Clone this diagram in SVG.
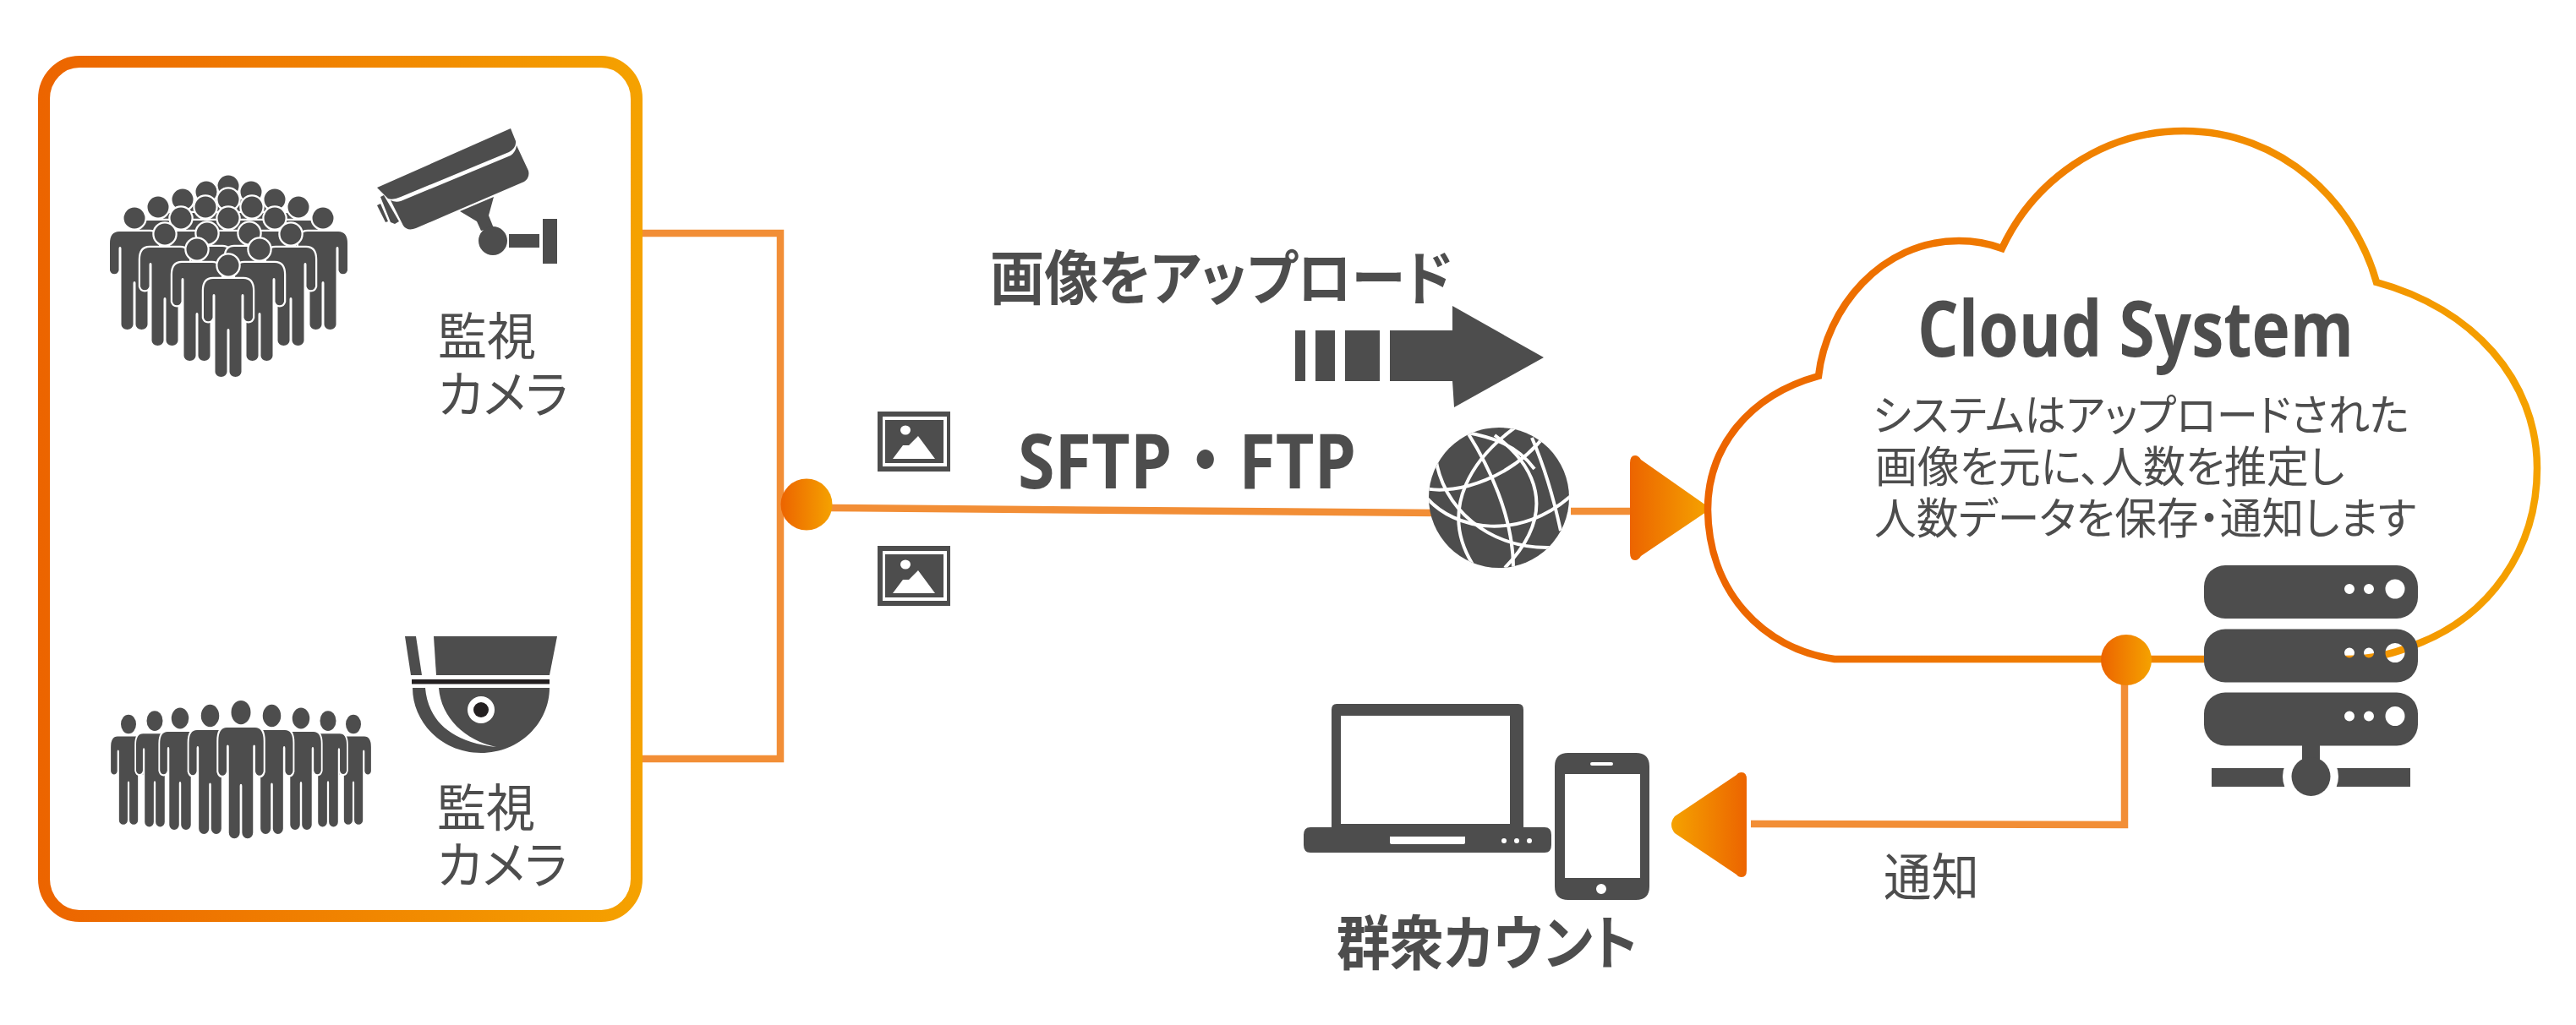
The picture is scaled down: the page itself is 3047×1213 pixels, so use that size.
<svg xmlns="http://www.w3.org/2000/svg" width="3047" height="1213" viewBox="0 0 3047 1213">
<style>
.g{fill:#4d4d4d}
.w{fill:#fff}
.k{fill:#231f20}
.ln{fill:none;stroke:#f28e36;stroke-width:8.5}
.p{fill:#4d4d4d;stroke:#fff;stroke-width:4.500;paint-order:stroke}
.gl{fill:none;stroke:#fff;stroke-width:4}
text{fill:#4d4d4d;font-family:"Noto Sans CJK JP","Noto Sans",sans-serif;font-feature-settings:"palt"}
.lat{font-family:"Open Sans","Noto Sans CJK JP",sans-serif;font-weight:700;font-feature-settings:normal}
.b{font-weight:700}
</style>
<defs>
<linearGradient id="gBox" gradientUnits="userSpaceOnUse" x1="45" y1="0" x2="760" y2="0"><stop offset="0" stop-color="#ec6400"/><stop offset="1" stop-color="#f5a200"/></linearGradient>
<linearGradient id="gCloud" gradientUnits="userSpaceOnUse" x1="2016" y1="0" x2="3005" y2="0"><stop offset="0" stop-color="#ec6400"/><stop offset="1" stop-color="#f5a200"/></linearGradient>
<linearGradient id="gR"><stop offset="0" stop-color="#ec6400"/><stop offset="1" stop-color="#f5a200"/></linearGradient>
<linearGradient id="gL"><stop offset="0" stop-color="#f5a200"/><stop offset="1" stop-color="#ec6400"/></linearGradient>
<path id="person" class="p" d="M-12.5 0A12.5 12.5 0 0 1 12.5 0A12.5 12.5 0 0 1 -12.5 0ZM-18 16H18Q29 16 29 30V62A5.5 6 0 0 1 18.500 62V36Q18.500 34 17 34T15.500 36V126A7 6 0 0 1 1.5 126V77Q1.5 75 0 75T-1.5 77V126A7 6 0 0 1 -15.500 126V36Q-15.500 34 -17 34T-18.500 36V62A5.5 6 0 0 1 -29 62V30Q-29 16 -18 16Z"/>
<path id="bust" class="p" d="M-12.5 0A12.5 12.5 0 0 1 12.5 0A12.5 12.5 0 0 1 -12.5 0ZM-18 16H18Q28 16 28 28V50H-28V28Q-28 16 -18 16Z"/>
<path id="srv" class="g" fill-rule="evenodd" d="M2632 0H2835A25 25 0 0 1 2860 25V38A25 25 0 0 1 2835 63H2632A25 25 0 0 1 2607 38V25A25 25 0 0 1 2632 0ZM2773 28a6 6 0 1 0 12 0a6 6 0 1 0 -12 0ZM2796 28a6 6 0 1 0 12 0a6 6 0 1 0 -12 0ZM2821.500 28a11.500 11.500 0 1 0 23 0a11.500 11.500 0 1 0 -23 0Z"/>
<g id="pic">
<rect class="g" x="1038" y="0" width="86" height="71"/>
<rect class="w" x="1044" y="6" width="76" height="59"/>
<rect class="g" x="1047" y="10" width="69" height="51"/>
<path class="w" d="M1056 56L1068 40L1075 40L1086 29L1106 56Z"/>
<ellipse class="w" cx="1071" cy="22" rx="6" ry="5.500"/>
</g>
<clipPath id="cGlobe"><circle cx="1773" cy="589" r="83"/></clipPath>
</defs>

<g id="connectors">
<path class="ln" d="M756 276H923V898H756"/>
<path class="ln" d="M980 601L1700 607"/>
<path class="ln" d="M1858 605H1932"/>
<path class="ln" d="M2513 805V976L2071 975"/>
</g>

<g id="camera-box">
<rect x="52" y="73" width="701" height="1011" rx="42" ry="44" fill="#fff" stroke="url(#gBox)" stroke-width="14"/>
</g>

<g id="crowd-1">
<use href="#bust" x="270" y="220"/>
<use href="#bust" x="244" y="227"/>
<use href="#bust" x="297" y="227"/>
<use href="#bust" x="216" y="236"/>
<use href="#bust" x="325" y="236"/>
<use href="#bust" x="270" y="236"/>
<use href="#bust" x="187" y="245"/>
<use href="#bust" x="353" y="245"/>
<use href="#bust" x="243" y="245"/>
<use href="#bust" x="298" y="245"/>
<use href="#bust" x="214" y="258"/>
<use href="#bust" x="325" y="258"/>
<use href="#bust" x="270" y="258"/>
<use href="#bust" x="245" y="276"/>
<use href="#bust" x="295" y="276"/>
<use href="#person" x="159" y="258"/>
<use href="#person" x="382" y="258"/>
<use href="#person" x="195" y="277"/>
<use href="#person" x="344" y="277"/>
<use href="#person" x="233" y="295"/>
<use href="#person" x="307" y="295"/>
<use href="#person" x="270" y="314"/>
</g>

<g id="camera-1">
<path class="g" d="M446 222L604 152L610 167Q611 175 602 180L474 233Q465 237 459 235Z"/>
<path class="g" d="M462 237Q468 240 474 238L604 184Q610 180 611 172L625 202Q627 210 620 215L492 270Q482 274 477 267Z"/>
<path class="g" d="M450 233L454 231L472 262L467 265L462 263Z"/>
<path class="g" d="M446 243L450 241L459 262L456 263Z"/>
<path class="g" d="M544 250L584 233L578 255L584 270L569 273L564 262Z"/>
<circle class="g" cx="583" cy="285" r="17"/>
<rect class="g" x="602" y="277" width="36" height="16"/>
<rect class="g" x="642" y="259" width="17" height="53"/>
</g>
<g id="label-camera-1">
<text font-size="60" lengthAdjust="spacingAndGlyphs"><tspan x="518" y="420" textLength="116" lengthAdjust="spacingAndGlyphs">監視</tspan><tspan x="518" y="489" textLength="154" lengthAdjust="spacingAndGlyphs">カメラ</tspan></text>
</g>

<g id="crowd-2">
<use href="#person" transform="translate(152 857) scale(.72 .9)"/>
<use href="#person" transform="translate(418 857) scale(.72 .9)"/>
<use href="#person" transform="translate(183 853) scale(.76 .95)"/>
<use href="#person" transform="translate(388 853) scale(.76 .95)"/>
<use href="#person" transform="translate(213 850) scale(.82 1)"/>
<use href="#person" transform="translate(356 850) scale(.82 1)"/>
<use href="#person" transform="translate(248.500 847) scale(.86 1.060)"/>
<use href="#person" transform="translate(321.500 847) scale(.86 1.060)"/>
<use href="#person" transform="translate(285 843) scale(.92 1.130)"/>
</g>

<g id="camera-2">
<path class="g" d="M513 753H659L650 799H516Z"/>
<path class="g" d="M479 753H492L499 799H486Z"/>
<rect class="k" x="487" y="804" width="163" height="5.500"/>
<path class="g" d="M488 814H503C506 850 530 878 587 884C550 876 522 850 519 814H650C650 855 615 891 569 891C523 891 488 855 488 814Z"/>
<circle class="w" cx="569" cy="840" r="16"/>
<circle class="k" cx="569" cy="840" r="9"/>
</g>
<g id="label-camera-2">
<text font-size="60"><tspan x="517" y="978" textLength="116" lengthAdjust="spacingAndGlyphs">監視</tspan><tspan x="517" y="1046" textLength="154" lengthAdjust="spacingAndGlyphs">カメラ</tspan></text>
</g>

<g id="junction-1"><circle cx="954" cy="597" r="30.500" fill="url(#gR)"/></g>

<g id="image-1"><use href="#pic" y="487"/></g>
<g id="image-2"><use href="#pic" y="646"/></g>

<g id="upload-label">
<text class="b" x="1171" y="355" font-size="70" textLength="547" lengthAdjust="spacingAndGlyphs">画像をアップロード</text>
<g class="g"><rect x="1532" y="391" width="12" height="60"/><rect x="1556" y="391" width="23" height="60"/><rect x="1591" y="391" width="41" height="60"/><path d="M1644 391H1718V362L1826 423L1720 482L1718 451H1644Z"/></g>
</g>

<g id="protocol-label">
<text class="lat" x="1204" y="578" font-size="90" textLength="400" lengthAdjust="spacingAndGlyphs">SFTP・FTP</text>
</g>

<g id="globe">
<circle class="g" cx="1773" cy="589" r="83"/>
<g clip-path="url(#cGlobe)">
<path class="gl" d="M1685 578C1725 586 1790 565 1830 512"/>
<path class="gl" d="M1685 586C1720 630 1800 640 1860 585"/>
<path class="gl" d="M1736 512C1760 550 1790 610 1790 672"/>
<path class="gl" d="M1792 506C1745 540 1700 600 1742 668"/>
<path class="gl" d="M1768 515C1815 550 1845 605 1780 672"/>
<path class="gl" d="M1698 540C1705 600 1760 650 1835 648"/>
<path class="gl" d="M1812 518C1830 560 1840 600 1846 628"/>
<path class="gl" d="M1726 510C1750 515 1790 520 1815 555"/>
</g>
</g>

<g id="arrow-upload"><path d="M1928 548Q1928 539 1934 539Q1938 539 1941 544L2018 598Q2022 602 2018 606L1941 658Q1938 663 1934 663Q1928 663 1928 654Z" fill="url(#gR)"/></g>

<g id="cloud">
<path d="M2170 780C2085 768 2021 700 2020 603C2020 530 2068 468 2151 445C2160 365 2225 285 2317 285C2337 285 2352 288 2368 294C2405 215 2485 155 2583 155C2700 155 2785 240 2811 334C2925 365 3001 450 3001 554C3001 650 2945 730 2857 763C2835 772 2810 780 2775 780Z" fill="#fff" stroke="url(#gCloud)" stroke-width="8.500"/>
<text class="lat" x="2268" y="422" font-size="92" textLength="516" lengthAdjust="spacingAndGlyphs">Cloud System</text>
<text font-size="51"><tspan x="2215" y="510" textLength="635" lengthAdjust="spacingAndGlyphs">システムはアップロードされた</tspan><tspan x="2218" y="571" textLength="555" lengthAdjust="spacingAndGlyphs">画像を元に、人数を推定し</tspan><tspan x="2217" y="632" textLength="641" lengthAdjust="spacingAndGlyphs">人数データを保存・通知します</tspan></text>
</g>

<g id="server">
<use href="#srv" y="669"/>
<use href="#srv" y="744.500"/>
<use href="#srv" y="819.500"/>
<rect class="g" x="2616" y="909" width="235" height="22"/>
<circle class="w" cx="2733" cy="919" r="33"/>
<rect class="g" x="2723" y="880" width="21" height="30"/>
<circle class="g" cx="2733.500" cy="919" r="23"/>
</g>

<g id="junction-2"><circle cx="2515" cy="781" r="30" fill="url(#gR)"/></g>

<g id="arrow-notify"><path d="M2066 1030Q2066 1038 2060 1038Q2056 1038 2054 1035L1981 986Q1973 976 1981 966L2054 917Q2056 914 2060 914Q2066 914 2066 922Z" fill="url(#gL)"/></g>

<g id="devices">
<path class="g" fill-rule="evenodd" d="M1581 833H1796Q1802 833 1802 840V979H1827Q1835 979 1835 988V1000Q1835 1009 1827 1009H1550Q1542 1009 1542 1000V988Q1542 979 1550 979H1575V840Q1575 833 1581 833ZM1586 847V975H1786V847ZM1644 990V997Q1644 999 1646 999H1731Q1733 999 1733 997V990Z"/>
<circle class="w" cx="1779" cy="995" r="3"/><circle class="w" cx="1794" cy="995" r="3"/><circle class="w" cx="1809" cy="995" r="3"/>
<path class="g" fill-rule="evenodd" d="M1855 891H1935Q1951 891 1951 907V1049Q1951 1065 1935 1065H1855Q1839 1065 1839 1049V907Q1839 891 1855 891ZM1851 916V1039H1940V916ZM1883 902Q1881 902 1881 904Q1881 906 1883 906H1906Q1908 906 1908 904Q1908 902 1906 902ZM1888 1052a6 6 0 1 0 12 0a6 6 0 1 0 -12 0Z"/>
<text class="b" x="1581" y="1142" font-size="70" textLength="356" lengthAdjust="spacingAndGlyphs">群衆カウント</text>
</g>
<g id="notify-label"><text x="2228" y="1060" font-size="60" textLength="113" lengthAdjust="spacingAndGlyphs">通知</text></g>
</svg>
